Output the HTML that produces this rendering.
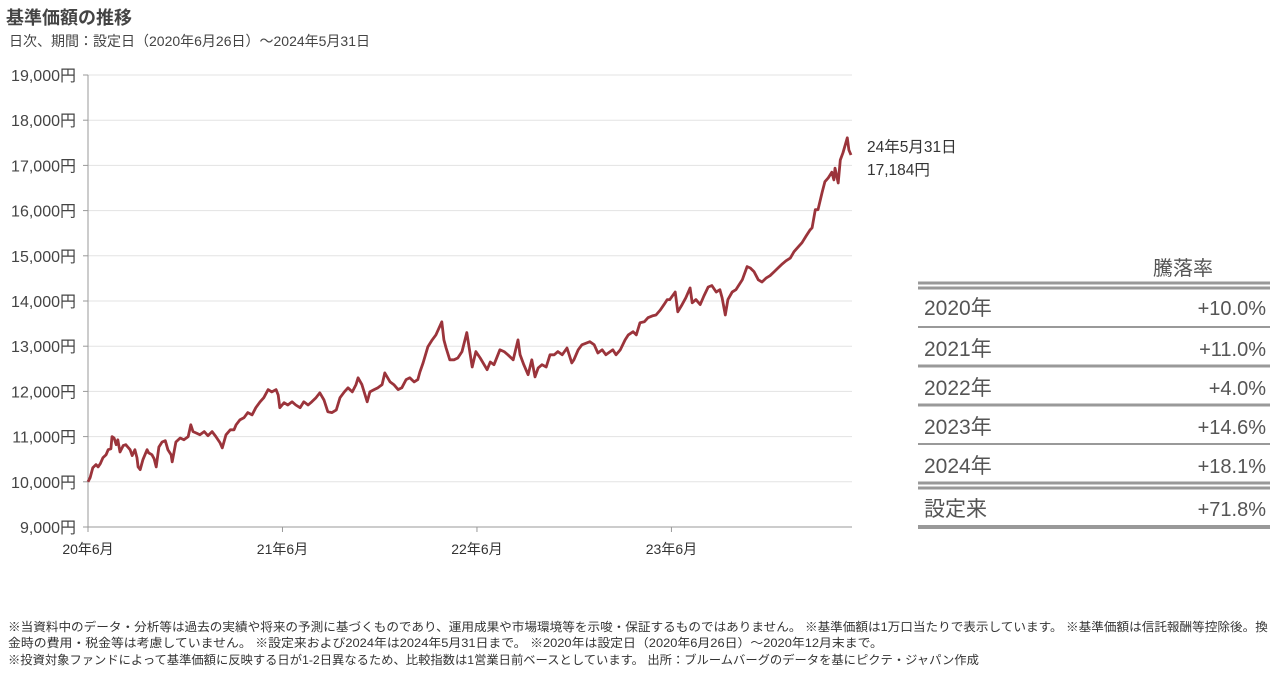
<!DOCTYPE html>
<html><head><meta charset="utf-8">
<style>
body{margin:0;background:#fff;width:1280px;height:680px;overflow:hidden;position:relative;font-family:"Liberation Sans","Noto Sans CJK JP",sans-serif;color:#333}
.t{position:absolute;white-space:nowrap}
.fn{position:absolute;left:8px;font-size:12px;white-space:nowrap;transform-origin:0 0;color:#333}
</style></head><body>
<div class="t" style="left:6px;top:4px;font-size:18px;color:#444;font-weight:bold">基準価額の推移</div>
<div class="t" style="left:9px;top:31px;font-size:14px;color:#444">日次、期間：設定日（2020年6月26日）～2024年5月31日</div>
<svg id="chart" width="1280" height="600" style="position:absolute;left:0;top:0" font-family="Liberation Sans, Noto Sans CJK JP, sans-serif"></svg>
<div class="fn" id="f1" style="top:618px">※当資料中のデータ・分析等は過去の実績や将来の予測に基づくものであり、運用成果や市場環境等を示唆・保証するものではありません。 ※基準価額は1万口当たりで表示しています。 ※基準価額は信託報酬等控除後。換</div>
<div class="fn" id="f2" style="top:634px">金時の費用・税金等は考慮していません。 ※設定来および2024年は2024年5月31日まで。 ※2020年は設定日（2020年6月26日）～2020年12月末まで。</div>
<div class="fn" id="f3" style="top:651px">※投資対象ファンドによって基準価額に反映する日が1-2日異なるため、比較指数は1営業日前ベースとしています。 出所：ブルームバーグのデータを基にピクテ・ジャパン作成</div>
<script>
const days=[0,4,9,15,19,23,28,34,38,43,45,49,53,56,60,66,71,79,83,88,92,94,98,103,107,111,114,120,124,128,133,139,145,150,156,158,165,173,180,188,193,197,203,210,218,225,233,240,248,252,259,267,274,278,285,293,300,308,315,323,330,338,345,353,357,360,368,375,383,390,398,405,413,420,428,435,443,450,458,466,473,481,488,496,503,507,514,524,529,537,544,552,557,567,574,582,589,597,604,612,619,623,629,638,646,653,664,668,672,679,687,694,702,711,721,728,736,749,755,762,773,781,788,798,807,811,818,826,833,839,845,852,860,867,875,882,890,899,908,912,920,927,942,950,957,965,972,980,985,991,999,1008,1014,1023,1029,1036,1044,1051,1059,1066,1074,1081,1087,1092,1102,1107,1115,1122,1130,1134,1141,1149,1156,1164,1171,1179,1186,1190,1196,1201,1209,1216,1228,1237,1243,1250,1258,1265,1273,1280,1288,1295,1303,1310,1318,1325,1333,1340,1348,1355,1359,1365,1370,1378,1383,1389,1396,1400,1402,1408,1412,1417,1425,1428,1432];
const values=[10000,10090,10310,10380,10330,10400,10530,10600,10710,10730,11000,10970,10820,10930,10660,10800,10820,10710,10580,10710,10530,10330,10270,10490,10600,10710,10640,10600,10510,10330,10770,10880,10910,10710,10600,10440,10880,10970,10930,11000,11260,11110,11080,11040,11110,11020,11110,11000,10860,10750,11040,11150,11150,11260,11370,11420,11530,11480,11640,11770,11860,12040,11990,12040,11920,11640,11750,11700,11770,11700,11640,11770,11700,11770,11860,11970,11810,11550,11530,11590,11860,11990,12080,11990,12150,12300,12150,11770,11990,12040,12080,12150,12410,12210,12150,12040,12080,12260,12300,12210,12260,12430,12630,12990,13140,13250,13540,13140,12960,12700,12700,12740,12880,13300,12540,12880,12740,12480,12650,12590,12920,12880,12810,12700,13140,12810,12590,12370,12700,12320,12520,12590,12540,12810,12810,12880,12810,12960,12630,12700,12920,13030,13100,13030,12850,12920,12810,12880,12920,12810,12920,13140,13250,13320,13250,13520,13540,13630,13670,13690,13800,13920,14030,14030,14200,13760,13920,14070,14290,13960,14030,13920,14110,14310,14340,14200,14250,14070,13690,14030,14200,14250,14470,14760,14730,14650,14470,14420,14510,14560,14650,14730,14820,14890,14950,15090,15200,15290,15440,15570,15620,16020,16020,16410,16640,16720,16850,16680,16940,16610,17120,17280,17610,17340,17230];
const yTicks=[9000,10000,11000,12000,13000,14000,15000,16000,17000,18000,19000];
const xTickDays=[0,365,730,1095];
const xTickLabels=["20年6月","21年6月","22年6月","23年6月"];
const rowLabels=["2020年","2021年","2022年","2023年","2024年","設定来"];
const rowValues=["+10.0%","+11.0%","+4.0%","+14.6%","+18.1%","+71.8%"];
const endLabel=["24年5月31日","17,184円"];

const NS="http://www.w3.org/2000/svg";
const svg=document.getElementById('chart');
const X0=88,X1=851,Y0=527,Y1=75;
const xs=d=>X0+d*(X1-X0)/1432;
const ys=v=>Y0-(v-9000)*(Y0-Y1)/10000;
function mk(t,a,txt){const e=document.createElementNS(NS,t);for(const k in a)e.setAttribute(k,a[k]);if(txt!=null)e.textContent=txt;svg.appendChild(e);return e;}
yTicks.forEach(v=>{
  const g=mk('line',{x1:X0,x2:852,y1:ys(v),y2:ys(v),stroke:'#e3e3e3','stroke-width':1});
  
  
  const tk=mk('line',{x1:X0-5,x2:X0,y1:ys(v),y2:ys(v),stroke:'#999'});
  
  
  const t=mk('text',{x:76,y:ys(v)+6,'text-anchor':'end','font-size':16,fill:'#444'},v.toLocaleString('en-US')+'円');
  
  
});
const ax=mk('line',{x1:X0,x2:X0,y1:Y1,y2:Y0+5,stroke:'#999'});


const bx=mk('line',{x1:X0,x2:852,y1:Y0,y2:Y0,stroke:'#999'});


xTickDays.forEach((d,i)=>{
  const tk=mk('line',{x1:xs(d),x2:xs(d),y1:Y0,y2:Y0+5,stroke:'#999'});
  
  
  const t=mk('text',{x:xs(d),y:554,'text-anchor':'middle','font-size':14,fill:'#333'},xTickLabels[i]);
  
  
});
const pts=days.map((d,i)=>xs(d).toFixed(1)+','+ys(values[i]).toFixed(1)).join(' ');
const pl=mk('polyline',{points:pts,fill:'none',stroke:'#9b343b','stroke-width':2.8,'stroke-linejoin':'round'});


endLabel.forEach((s,i)=>{
  const t=mk('text',{x:867,y:152+i*23,'font-size':15.5,fill:'#333'},s);
  
  
});
const hd=mk('text',{x:1183,y:275,'text-anchor':'middle','font-size':20,fill:'#555'},'騰落率');


const lines=[[283,3],[288,3],[327,2],[366,3],[405,3],[444,2],[483,3],[488,3],[527,4]];
lines.forEach(l=>{
  const e=mk('line',{x1:918,x2:1270,y1:l[0],y2:l[0],stroke:'#999','stroke-width':l[1]});
  
  
});
const rowY=[315,356,395,434,473,516];
rowLabels.forEach((s,i)=>{
  const a=mk('text',{x:924,y:rowY[i],'font-size':21,fill:'#555'},s);
  
  
  const b=mk('text',{x:1266,y:rowY[i],'text-anchor':'end','font-size':20,fill:'#555'},rowValues[i]);
  
  
});
[['f1',1260],['f2',875],['f3',971]].forEach(([id,w])=>{
  const e=document.getElementById(id);const r=e.scrollWidth;
  e.style.transform='scaleX('+(w/r)+')';
});
</script>
</body></html>
